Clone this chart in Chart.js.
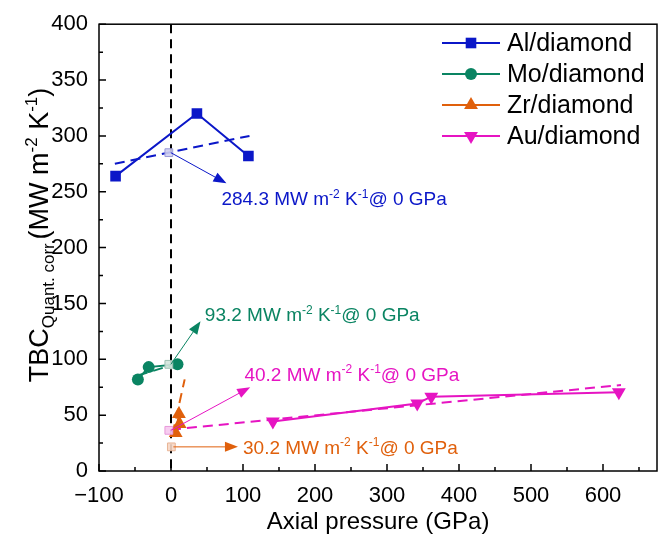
<!DOCTYPE html>
<html>
<head>
<meta charset="utf-8">
<script src="https://cdn.jsdelivr.net/npm/chart.js@4.4.1/dist/chart.umd.min.js"></script>
<style>
  html, body { margin: 0; padding: 0; background: #fff; }
  #chartContainer { width: 666px; height: 540px; }
</style>
</head>
<body>
<div id="chartContainer"><canvas id="myChart" width="666" height="540"></canvas></div>
<script>
// Series values (x = axial pressure GPa, y = TBC MW m-2 K-1)
const alX = [-77, 36, 107.5];
const alY = [264, 320, 282];
const alFitX = [-78, 109];
const alFitY = [275, 300];

const moX = [-46, -31, 9];
const moY = [82, 93, 95.5];
const moFitX = [-46, 10];
const moFitY = [85.5, 96.5];

const zrX = [6.5, 11, 12];
const zrY = [34, 51, 42];
const zrFitX = [2, 19];
const zrFitY = [33, 82];

const auX = [141.5, 342, 361.5, 622];
const auY = [44.4, 60.5, 66.5, 70.4];
const auFitX = [0, 625];
const auFitY = [37, 77];

// values at 0 GPa (hollow squares) and their callouts
const zeroX = [-3, -3, 0.5, -3];
const zeroY = [285, 95.5, 21.6, 36.4];
const zeroLabels = ['284.3', '93.2', '30.2', '40.2'];
const arrowTipX = [77, 41, 93, 110];
const arrowTipY = [257.5, 134, 21.6, 75];
const labelX = [70, 47, 100, 102];
const labelY = [244, 140, 21.6, 86.7];

const seriesNames = ['Al/diamond', 'Mo/diamond', 'Zr/diamond', 'Au/diamond'];
const xTicks = [-100, 0, 100, 200, 300, 400, 500, 600];
const yTicks = [0, 50, 100, 150, 200, 250, 300, 350, 400];

const colors = ['#0b17c8', '#0a8462', '#e0600c', '#e614c2'];
const hollowFill = ['rgba(205,205,238,0.9)', 'rgba(210,228,220,0.9)', 'rgba(246,214,196,0.9)', 'rgba(246,200,238,0.9)'];
const hollowBorder = ['#9a9ad8', '#9cc0b2', '#e8b496', '#e898da'];
const markers = [['rect', 7.5, 0], ['circle', 6, 0], ['triangle', 8, 0], ['triangle', 8, 180]];

const FONT = '"Liberation Sans", Arial, sans-serif';

function pts(xs, ys) {
  return xs.map((v, i) => ({ x: v, y: ys[i] }));
}

const seriesX = [alX, moX, zrX, auX];
const seriesY = [alY, moY, zrY, auY];
const fitX = [alFitX, moFitX, zrFitX, auFitX];
const fitY = [alFitY, moFitY, zrFitY, auFitY];

const datasets = [];
for (let i = 0; i < 4; i++) {
  datasets.push({
    label: seriesNames[i] + ' 0 GPa',
    data: [{ x: zeroX[i], y: zeroY[i] }],
    pointStyle: 'rect',
    pointRadius: 5.5,
    backgroundColor: hollowFill[i],
    borderColor: hollowBorder[i],
    borderWidth: 1,
    order: 1
  });
  datasets.push({
    label: seriesNames[i],
    data: pts(seriesX[i], seriesY[i]),
    showLine: true,
    borderColor: colors[i],
    backgroundColor: colors[i],
    borderWidth: 2,
    pointStyle: markers[i][0],
    pointRadius: markers[i][1],
    pointRotation: markers[i][2],
    pointBorderWidth: 0,
    order: 2
  });
  datasets.push({
    label: seriesNames[i] + ' fit',
    data: pts(fitX[i], fitY[i]),
    showLine: true,
    borderColor: colors[i],
    borderWidth: 2,
    borderDash: [10, 6],
    pointRadius: 0,
    order: 3
  });
}

// text made of normal / sup / sub pieces
function richWidth(ctx, parts, size) {
  let w = 0;
  parts.forEach(p => {
    ctx.font = (p[1] === 'n' ? size : Math.round(size * 0.62)) + 'px ' + FONT;
    w += ctx.measureText(p[0]).width;
  });
  return w;
}
function drawRich(ctx, parts, x, y, size) {
  ctx.textBaseline = 'alphabetic';
  ctx.textAlign = 'left';
  const base = y + size * 0.36;
  parts.forEach(p => {
    let dy = 0;
    if (p[1] === 'n') {
      ctx.font = size + 'px ' + FONT;
    } else {
      ctx.font = Math.round(size * 0.62) + 'px ' + FONT;
      dy = p[1] === 'sup' ? -size * 0.4 : size * 0.22;
    }
    ctx.fillText(p[0], x, base + dy);
    x += ctx.measureText(p[0]).width;
  });
}

function drawMarker(ctx, style, r, rot, x, y) {
  ctx.beginPath();
  if (style === 'rect') {
    const s = Math.SQRT1_2 * r;
    ctx.rect(x - s, y - s, 2 * s, 2 * s);
  } else if (style === 'circle') {
    ctx.arc(x, y, r, 0, Math.PI * 2);
  } else {
    let a = rot * Math.PI / 180;
    ctx.moveTo(x + Math.sin(a) * r, y - Math.cos(a) * r);
    a += 2 * Math.PI / 3;
    ctx.lineTo(x + Math.sin(a) * r, y - Math.cos(a) * r);
    a += 2 * Math.PI / 3;
    ctx.lineTo(x + Math.sin(a) * r, y - Math.cos(a) * r);
    ctx.closePath();
  }
  ctx.fill();
}

function drawArrow(ctx, x0, y0, x1, y1, color) {
  const ang = Math.atan2(y1 - y0, x1 - x0);
  const len = 13, half = 5;
  ctx.strokeStyle = color;
  ctx.fillStyle = color;
  ctx.lineWidth = 1;
  ctx.beginPath();
  ctx.moveTo(x0, y0);
  ctx.lineTo(x1 - Math.cos(ang) * len * 0.8, y1 - Math.sin(ang) * len * 0.8);
  ctx.stroke();
  ctx.beginPath();
  ctx.moveTo(x1, y1);
  ctx.lineTo(x1 - Math.cos(ang) * len - Math.sin(ang) * half, y1 - Math.sin(ang) * len + Math.cos(ang) * half);
  ctx.lineTo(x1 - Math.cos(ang) * len + Math.sin(ang) * half, y1 - Math.sin(ang) * len - Math.cos(ang) * half);
  ctx.closePath();
  ctx.fill();
}

const overlay = {
  id: 'overlay',
  beforeDatasetsDraw(chart) {
    const { ctx, chartArea: a, scales: { x } } = chart;
    const px = x.getPixelForValue(0);
    ctx.save();
    ctx.strokeStyle = '#000';
    ctx.lineWidth = 2;
    ctx.setLineDash([9, 6]);
    ctx.beginPath();
    ctx.moveTo(px, a.top);
    ctx.lineTo(px, a.bottom);
    ctx.stroke();
    ctx.restore();
  },
  afterDraw(chart) {
    const { ctx, chartArea: a, scales: { x, y } } = chart;
    ctx.save();

    // frame and inward ticks
    ctx.strokeStyle = '#000';
    ctx.lineWidth = 1.5;
    ctx.strokeRect(a.left, a.top, a.right - a.left, a.bottom - a.top);
    ctx.beginPath();
    for (let v = -100; v <= 650; v += 50) {
      const px = x.getPixelForValue(v);
      const l = v % 100 === 0 ? 7 : 4;
      ctx.moveTo(px, a.bottom);
      ctx.lineTo(px, a.bottom - l);
    }
    for (let v = 0; v <= 400; v += 25) {
      const py = y.getPixelForValue(v);
      const l = v % 50 === 0 ? 7 : 4;
      ctx.moveTo(a.left, py);
      ctx.lineTo(a.left + l, py);
    }
    ctx.stroke();

    // axis titles
    ctx.fillStyle = '#000';
    ctx.font = '24px ' + FONT;
    ctx.textAlign = 'center';
    ctx.textBaseline = 'middle';
    ctx.fillText('Axial pressure (GPa)', (a.left + a.right) / 2, 522);

    const yTitle = [['TBC', 'n'], ['Quant. corr.', 'sub'], ['(MW m', 'n'], ['-2', 'sup'], [' K', 'n'], ['-1', 'sup'], [')', 'n']];
    ctx.translate(38, 235);
    ctx.rotate(-Math.PI / 2);
    const tw = richWidth(ctx, yTitle, 27);
    drawRich(ctx, yTitle, -tw / 2, 0, 27);
    ctx.setTransform(1, 0, 0, 1, 0, 0);

    // callouts for values at 0 GPa
    for (let i = 0; i < 4; i++) {
      const x0 = x.getPixelForValue(zeroX[i]) + 2;
      const y0 = y.getPixelForValue(zeroY[i]);
      drawArrow(ctx, x0, y0, x.getPixelForValue(arrowTipX[i]), y.getPixelForValue(arrowTipY[i]), colors[i]);
      ctx.fillStyle = colors[i];
      drawRich(ctx, [[zeroLabels[i] + ' MW m', 'n'], ['-2', 'sup'], [' K', 'n'], ['-1', 'sup'], ['@ 0 GPa', 'n']],
        x.getPixelForValue(labelX[i]), y.getPixelForValue(labelY[i]), 19);
    }

    // legend
    for (let i = 0; i < 4; i++) {
      const ly = 43 + i * 31;
      ctx.strokeStyle = colors[i];
      ctx.fillStyle = colors[i];
      ctx.lineWidth = 2;
      ctx.beginPath();
      ctx.moveTo(442, ly);
      ctx.lineTo(500, ly);
      ctx.stroke();
      drawMarker(ctx, markers[i][0], markers[i][1], markers[i][2], 471, ly);
      ctx.fillStyle = '#000';
      ctx.font = '25px ' + FONT;
      ctx.textAlign = 'left';
      ctx.textBaseline = 'middle';
      ctx.fillText(seriesNames[i], 507, ly + 1);
    }
    ctx.restore();
  }
};

window.onload = function() {
  const ctx = document.getElementById('myChart').getContext('2d');
  new Chart(ctx, {
    type: 'scatter',
    data: { datasets: datasets },
    options: {
      responsive: false,
      animation: false,
      layout: { padding: { top: 19, right: 9, left: 0, bottom: 0 } },
      plugins: { legend: { display: false }, tooltip: { enabled: false } },
      scales: {
        x: {
          type: 'linear',
          min: -100,
          max: 675,
          afterFit(scale) { scale.height = 69; },
          afterBuildTicks(scale) { scale.ticks = xTicks.map(v => ({ value: v })); },
          grid: { display: false, drawTicks: false },
          border: { display: false },
          ticks: {
            padding: 12,
            color: '#000',
            font: { family: FONT, size: 22 },
            maxRotation: 0,
            callback: v => v < 0 ? '\u2212' + Math.abs(v) : String(v)
          }
        },
        y: {
          type: 'linear',
          min: 0,
          max: 400,
          afterFit(scale) { scale.width = 99; },
          afterBuildTicks(scale) { scale.ticks = yTicks.map(v => ({ value: v })); },
          grid: { display: false, drawTicks: false },
          border: { display: false },
          ticks: {
            padding: 11,
            color: '#000',
            font: { family: FONT, size: 22 }
          }
        }
      }
    },
    plugins: [overlay]
  });
};
</script>
</body>
</html>
